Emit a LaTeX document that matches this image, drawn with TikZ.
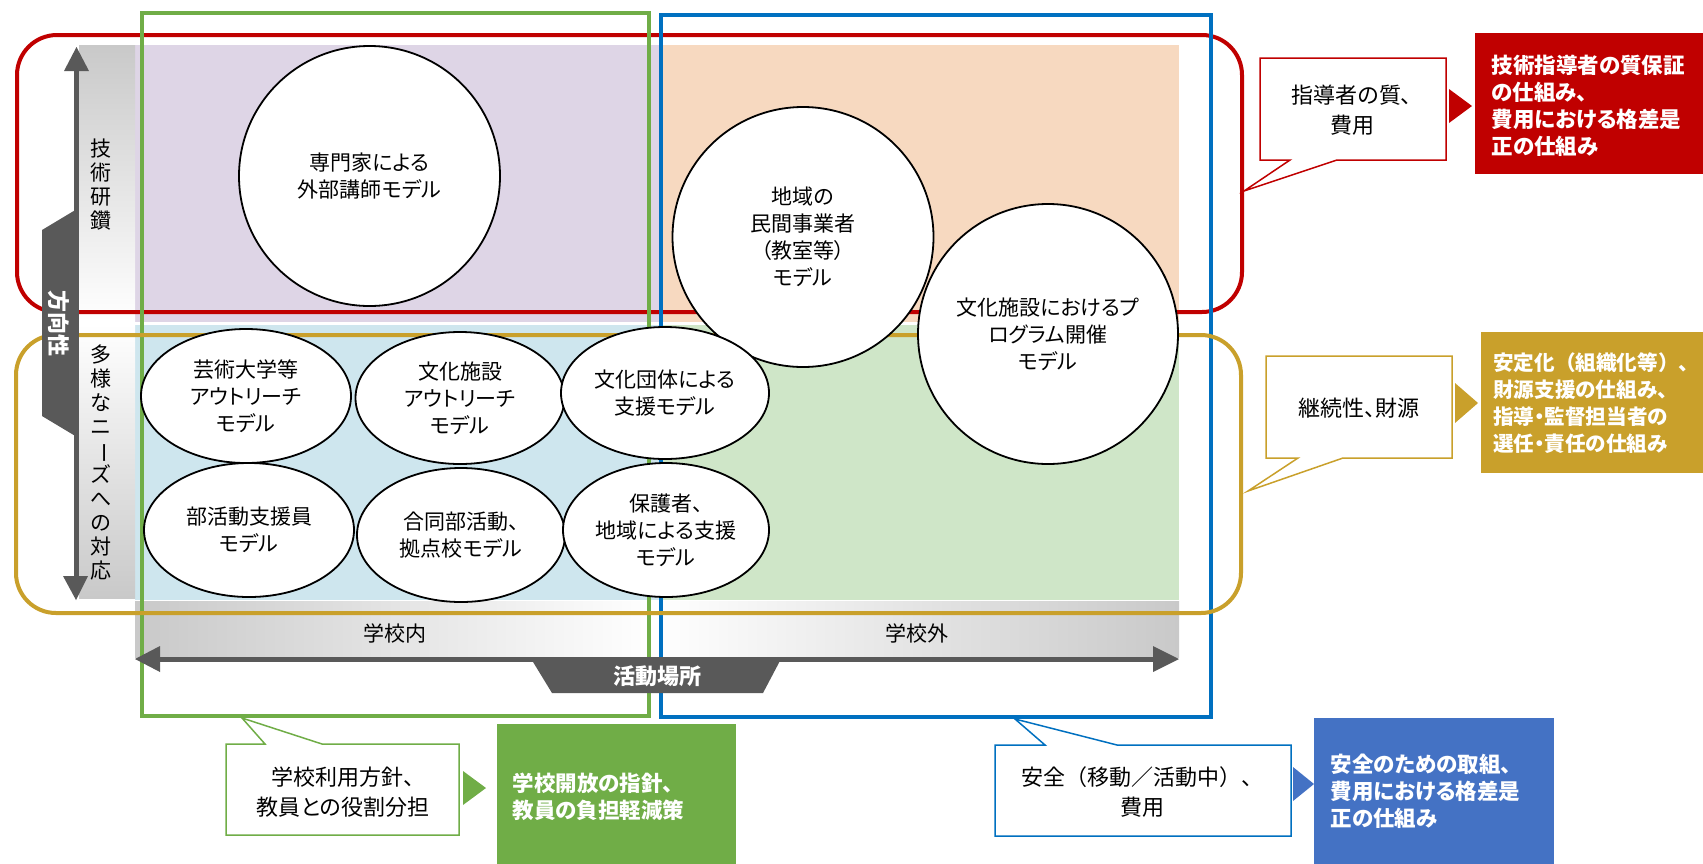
\documentclass[tikz,border=0pt]{standalone}
\usepackage{fontspec}
\setmainfont{Noto Sans CJK JP}[RawFeature=+palt]
\newfontfamily\fullw{Noto Sans CJK JP}
\usetikzlibrary{shapes.geometric}
\definecolor{cred}{HTML}{C00000}
\definecolor{cgold}{HTML}{C9A02B}
\definecolor{cgreen}{HTML}{70AD47}
\definecolor{cblue}{HTML}{0070C0}
\definecolor{cblueb}{HTML}{4472C4}
\definecolor{cpurple}{HTML}{DED5E6}
\definecolor{cpeach}{HTML}{F7D9C0}
\definecolor{clblue}{HTML}{CEE6EE}
\definecolor{clgreen}{HTML}{CFE6C8}
\definecolor{cdark}{HTML}{595959}
\definecolor{cgrey}{HTML}{C9C9C9}
\newcommand{\vbar}{\rotatebox[origin=c]{-90}{ー}}
\begin{document}
\begin{tikzpicture}[x=1pt,y=-1pt,
  ell/.style={ellipse, draw=black, line width=1.8pt, fill=white, inner sep=0pt, align=center, font={\fontsize{21}{27}\selectfont}},
  framebox/.style={line width=4pt},
  callout/.style={fill=white, line width=1.5pt},
  soltext/.style={anchor=west, align=left, text=white, font={\fontsize{21.5}{27}\selectfont\bfseries}},
  calltext/.style={align=center, font={\fontsize{22}{30}\selectfont}},
  axlabel/.style={font={\fontsize{21}{24}\selectfont}},
  vlabel/.style={align=center, font={\fontsize{21}{24}\selectfont}},
  darklabel/.style={text=white, font={\fontsize{22}{24}\selectfont\bfseries}}
]
\useasboundingbox (0,0) rectangle (1703,863);
% quadrants
\fill[cpurple] (135,45) rectangle (660,322);
\fill[cpeach] (660,45) rectangle (1179,322);
\fill[clblue] (135,325) rectangle (660,600);
\fill[clgreen] (660,325) rectangle (1179,600);
% gradient bands
\shade[top color=cgrey, bottom color=white] (79,45) rectangle (135,321);
\shade[top color=white, bottom color=cgrey] (79,324) rectangle (135,598);
\shade[left color=cgrey, right color=white] (135,601) rectangle (655,657);
\shade[left color=white, right color=cgrey] (655,601) rectangle (1179,657);
\node[axlabel] (inside) at (395,633) {学校内};
\node[axlabel] (outside) at (917,633) {学校外};
\node[vlabel] (tech) at (101,185) {技\\術\\研\\鑽};
\node[vlabel] (needs) at (101,462) {多\\様\\な\\ニ\\\vbar\\ズ\\へ\\の\\対\\応};
% frames
\draw[cred, framebox, rounded corners=40pt] (17,35) rectangle (1242,312);
\draw[cgreen, framebox] (142,13) rectangle (649,716);
\draw[cblue, framebox] (661,15) rectangle (1211,717);
\draw[cgold, framebox, rounded corners=40pt] (16,335) rectangle (1241,613);
% vertical arrow
\fill[cdark] (74,70) rectangle (79,577);
\fill[cdark] (76.5,47) -- (89,71) -- (64,71) -- cycle;
\fill[cdark] (76,600) -- (88,576) -- (63,576) -- cycle;
\fill[cdark] (77,209) -- (42,230) -- (42,416) -- (77,437) -- cycle;
\node[darklabel, rotate=-90] (dir) at (59,323) {方向性};
% horizontal arrow
\fill[cdark] (159,656.5) rectangle (1154,661.5);
\fill[cdark] (135,659) -- (160,646) -- (160,672) -- cycle;
\fill[cdark] (1179,659) -- (1153,646) -- (1153,672) -- cycle;
\fill[cdark] (530,657) -- (782,657) -- (763,693) -- (552,693) -- cycle;
\node[darklabel] (place) at (657,676) {活動場所};
% ellipses
\node[ell, minimum width=261pt, minimum height=260pt] (e1) at (369.5,176) {専門家による\\外部講師モデル};
\node[ell, minimum width=261pt, minimum height=260pt] (e2) at (803,237) {地域の\\民間事業者\\（教室等）\\モデル};
\node[ell, minimum width=260pt, minimum height=260pt] (e3) at (1048,334) {文化施設におけるプ\\ログラム開催\\モデル};
\node[ell, minimum width=210pt, minimum height=134pt] (e4) at (246,396) {芸術大学等\\アウトリーチ\\モデル};
\node[ell, minimum width=209pt, minimum height=132pt] (e5) at (460,398) {文化施設\\アウトリーチ\\モデル};
\node[ell, minimum width=208pt, minimum height=132pt] (e6) at (665,393) {文化団体による\\支援モデル};
\node[ell, minimum width=210pt, minimum height=134pt] (e7) at (249,530) {部活動支援員\\モデル};
\node[ell, minimum width=208pt, minimum height=134pt] (e8) at (461,535) {合同部活動、\\拠点校モデル};
\node[ell, minimum width=206pt, minimum height=134pt] (e9) at (666,530) {保護者、\\地域による支援\\モデル};
% red callout
\draw[cred, callout] (1260,58) -- (1446,58) -- (1446,160) -- (1337,160) -- (1244,191) -- (1290,160) -- (1260,160) -- cycle;
\node[calltext] (c1) at (1352,110) {指導者の質、\\費用};
\fill[cred] (1449,89) -- (1472,106) -- (1449,123) -- cycle;
\fill[cred] (1475,33) rectangle (1710,174);
\node[soltext] (s1) at (1488,106) {技術指導者の質保証\\の仕組み、\\費用における格差是\\正の仕組み};
% gold callout
\draw[cgold, callout] (1266,356) -- (1452,356) -- (1452,458) -- (1343,458) -- (1248,491) -- (1298,458) -- (1266,458) -- cycle;
\node[calltext] (c2) at (1359,408) {継続性、財源};
\fill[cgold] (1455,383) -- (1478,403) -- (1455,423) -- cycle;
\fill[cgold] (1481,332) rectangle (1710,473);
\node[soltext, inner sep=0pt, font={\fontsize{20.6}{27}\selectfont\bfseries}] (s2) at (1493,403) {{\fullw 安定化（組織化等）、}\\財源支援の仕組み、\\指導・監督担当者の\\選任・責任の仕組み};
% green callout
\draw[cgreen, callout] (226,744) -- (265,744) -- (242,718) -- (322,744) -- (459,744) -- (459,835) -- (226,835) -- cycle;
\node[calltext] (c3) at (343,792) {学校利用方針、\\教員との役割分担};
\fill[cgreen] (463,771) -- (486,788) -- (463,805) -- cycle;
\fill[cgreen] (497,724) rectangle (736,870);
\node[soltext] (s3) at (509,797) {学校開放の指針、\\教員の負担軽減策};
% blue callout
\draw[cblue, callout] (995,745) -- (1045,745) -- (1015,719) -- (1117,745) -- (1291,745) -- (1291,836) -- (995,836) -- cycle;
\node[calltext, font={\fullw\fontsize{22}{30}\selectfont}] (c4) at (1142,792) {安全（移動／活動中）、\\費用};
\fill[cblueb] (1293,767) -- (1314,784) -- (1293,801) -- cycle;
\fill[cblueb] (1314,718) rectangle (1554,870);
\node[soltext] (s4) at (1327,791) {安全のための取組、\\費用における格差是\\正の仕組み};
\end{tikzpicture}
\end{document}
